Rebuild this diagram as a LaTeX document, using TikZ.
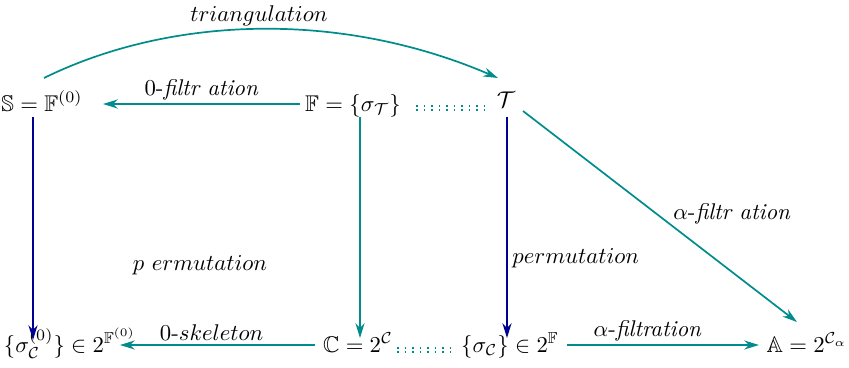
\documentclass[tikz,border=0pt]{standalone}
\usepackage{amssymb}
\usetikzlibrary{arrows.meta,calc}
\definecolor{tealc}{RGB}{0,140,140}
\definecolor{navyc}{RGB}{0,0,145}
\begin{document}
\begin{tikzpicture}[x=0.44pt,y=-0.44pt,
  obj/.style={anchor=base,inner sep=0pt},
  tarrow/.style={draw=tealc,line width=0.75pt,-{Stealth[length=6.5pt,width=4pt]}},
  narrow/.style={draw=navyc,line width=0.75pt,-{Stealth[length=6.5pt,width=4pt]}},
  dotline/.style={draw=tealc,line width=0.6pt,double distance=1.3pt,dash pattern=on 0.7pt off 2.6pt},
  lab/.style={inner sep=1.5pt,text=black}]
\useasboundingbox (0,0) rectangle (849,367);
\node[obj] (S) at (42,111) {$\mathbb{S}=\mathbb{F}^{(0)}$};
\node[obj] (F) at (353,111) {$\mathbb{F}=\{\sigma_{\mathcal{T}}\}$};
\node[obj] (T) at (506,107) {$\mathcal{T}$};
\node[obj] (L) at (70,352) {$\{\sigma_{\mathcal{C}}^{(0)}\}\in 2^{\mathbb{F}^{(0)}}$};
\node[obj] (C) at (358,352) {$\mathbb{C}=2^{\mathcal{C}}$};
\node[obj] (S2) at (510,352) {$\{\sigma_{\mathcal{C}}\}\in 2^{\mathbb{F}}$};
\node[obj] (A) at (807,352) {$\mathbb{A}=2^{\mathcal{C}_\alpha}$};
\node[lab] (pl) at (200,265) {$p\ ermutation$};
% triangulation
\draw[tarrow] ($(S.base)+(2,-33)$) .. controls (170,16) and (340,10) .. ($(T.base)+(-8,-29)$)
  node[pos=0.5,anchor=base,yshift=3.2pt,lab] {$triangulation$};
% 0-filtration
\draw[tarrow] ($(F.base)+(-53,-7)$) -- ($(S.base)+(61,-7)$)
  node[midway,above,lab] {$0$-\textit{filtr ation}};
% dotted top
\draw[dotline] ($(F.base)+(63,-3)$) -- ($(T.base)+(-16,1)$);
% verticals
\draw[narrow] ($(S.base)+(-9,6)$) -- ($(L.base)+(-37,-12)$);
\draw[tarrow] ($(F.base)+(7,6)$) -- ($(C.base)+(2,-14)$);
\draw[narrow] ($(T.base)+(1,10)$) -- ($(S2.base)+(-3,-14)$)
  node[pos=0.64,anchor=west,lab,inner sep=2pt] {$permutation$};
% T to A
\draw[tarrow] ($(T.base)+(17,4)$) -- ($(A.base)+(-10,-30)$)
  node[pos=0.5,anchor=west,lab,xshift=4pt,yshift=1pt] {$\alpha$-\textit{filtr ation}};
% bottom
\draw[tarrow] ($(C.base)+(-43,-7)$) -- ($(L.base)+(50,-7)$)
  node[pos=0.53,above,lab] {$0$-$skeleton$};
\draw[dotline] ($(C.base)+(39,-2)$) -- ($(S2.base)+(-55,-2)$);
\draw[tarrow] ($(S2.base)+(57,-7)$) -- ($(A.base)+(-48,-7)$)
  node[pos=0.42,above,lab] {$\alpha$-\textit{filtration}};
\end{tikzpicture}
\end{document}
